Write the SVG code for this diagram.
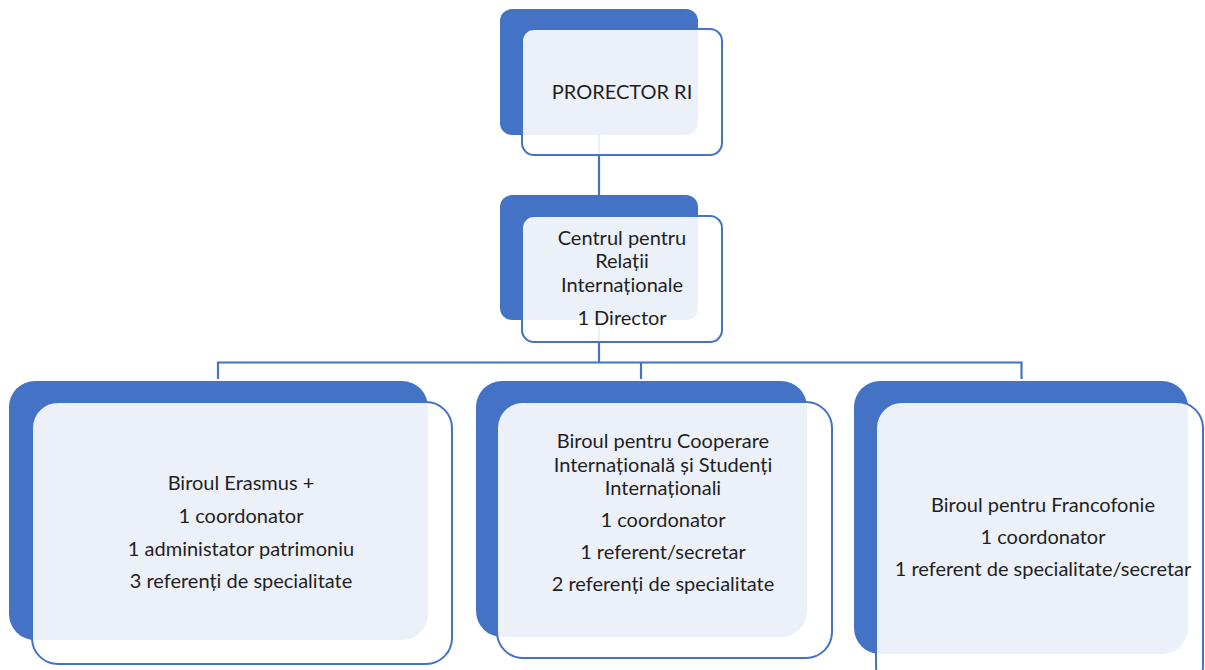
<svg xmlns="http://www.w3.org/2000/svg" width="1205" height="670" viewBox="0 0 1205 670">
<style>
.back{fill:#4472c4;}
.front{fill:#ffffff;fill-opacity:0.9;stroke:#4472c4;stroke-width:2;}
.conn{fill:none;stroke:#4472c4;stroke-width:2.2;}
text{font-family:Lato,"Open Sans","Liberation Sans",sans-serif;font-size:20px;fill:#1f1f1f;text-anchor:middle;}
</style>
<rect width="1205" height="670" fill="#ffffff"/>
<g id="connectors">
<line class="conn" x1="599" y1="135" x2="599" y2="195"/>
<line class="conn" x1="599" y1="320" x2="599" y2="362.5"/>
<polyline class="conn" points="218,379 218,362.5 1021.5,362.5 1021.5,379"/>
<line class="conn" x1="641" y1="362.5" x2="641" y2="379"/>
</g>
<g id="node-prorector">
<rect class="back" x="500" y="9" width="198" height="126" rx="12"/>
<rect class="front" x="522" y="29" width="200" height="126" rx="12"/>
<text x="622" y="99">PRORECTOR RI</text>
</g>
<g id="node-centrul">
<rect class="back" x="500" y="195" width="198" height="125" rx="12"/>
<rect class="front" x="522" y="216" width="200" height="126" rx="12"/>
<text x="622" y="245">Centrul pentru</text>
<text x="622" y="268">Relații</text>
<text x="622" y="292">Internaționale</text>
<text x="622" y="325">1 Director</text>
</g>
<g id="node-erasmus">
<rect class="back" x="9" y="381" width="419" height="259" rx="26"/>
<rect class="front" x="32" y="402" width="420" height="262" rx="26"/>
<text x="241" y="490">Biroul Erasmus +</text>
<text x="241" y="523">1 coordonator</text>
<text x="241" y="556">1 administator patrimoniu</text>
<text x="241" y="588">3 referenți de specialitate</text>
</g>
<g id="node-cooperare">
<rect class="back" x="476" y="381" width="331" height="256" rx="26"/>
<rect class="front" x="497" y="402" width="335" height="256" rx="26"/>
<text x="663" y="448">Biroul pentru Cooperare</text>
<text x="663" y="472">Internațională și Studenți</text>
<text x="663" y="495">Internaționali</text>
<text x="663" y="527">1 coordonator</text>
<text x="663" y="559">1 referent/secretar</text>
<text x="663" y="591">2 referenți de specialitate</text>
</g>
<g id="node-francofonie">
<rect class="back" x="854" y="381" width="334" height="273" rx="26"/>
<rect class="front" x="876" y="402" width="327" height="290" rx="26"/>
<text x="1043" y="512">Biroul pentru Francofonie</text>
<text x="1043" y="544">1 coordonator</text>
<text x="1043" y="576">1 referent de specialitate/secretar</text>
</g>
</svg>
